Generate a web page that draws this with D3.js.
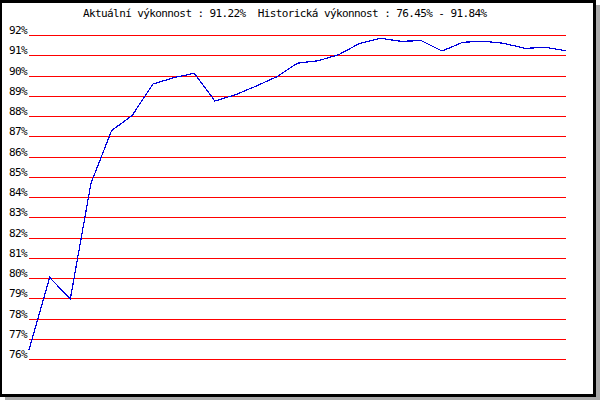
<!DOCTYPE html>
<html>
<head>
<meta charset="utf-8">
<script src="https://cdn.jsdelivr.net/npm/d3@7"></script>
<style>
  body { margin: 0; background: #fff; }
  text { font-family: "DejaVu Sans Mono", monospace; font-size: 11px; letter-spacing: -0.6px; fill: #000; white-space: pre; }
</style>
</head>
<body>
<div id="chart"></div>
<script>
// performance history (%)
var values = [76.45, 80.03, 78.96, 84.68, 87.28, 88.03, 89.58, 89.89, 90.11, 88.74,
  89.05, 89.48, 89.94, 90.61, 90.73, 91.03, 91.58, 91.84, 91.69, 91.72,
  91.21, 91.64, 91.69, 91.59, 91.34, 91.39, 91.22];
var yTicks = [76, 77, 78, 79, 80, 81, 82, 83, 84, 85, 86, 87, 88, 89, 90, 91, 92];
var title = "Aktuální výkonnost : 91.22%  Historická výkonnost : 76.45% - 91.84%";

var width = 600, height = 400;
var margin = { top: 35, right: 34, bottom: 41, left: 29 };

var svg = d3.select("#chart").append("svg")
  .attr("width", width)
  .attr("height", height);

// frame with shadow
svg.append("rect").attr("x", 5).attr("y", 5).attr("width", width - 5).attr("height", height - 5).attr("fill", "#aaa");
svg.append("rect").attr("x", 0).attr("y", 0).attr("width", 596).attr("height", 397).attr("fill", "#000");
svg.append("rect").attr("x", 2).attr("y", 3).attr("width", 591).attr("height", 391).attr("fill", "#fff");

var x = d3.scaleLinear()
  .domain([0, values.length - 1])
  .range([margin.left, width - margin.right]);
var y = d3.scaleLinear()
  .domain([d3.min(yTicks), d3.max(yTicks)])
  .range([height - margin.bottom, margin.top]);

// grid lines
svg.append("g").selectAll("line")
  .data(yTicks)
  .enter().append("line")
  .attr("x1", margin.left)
  .attr("x2", width - margin.right)
  .attr("y1", function (d) { return Math.round(y(d)) + 0.5; })
  .attr("y2", function (d) { return Math.round(y(d)) + 0.5; })
  .attr("stroke", "#ff0000")
  .attr("stroke-width", 1)
  .attr("shape-rendering", "crispEdges");

// y labels
svg.append("g").selectAll("text")
  .data(yTicks)
  .enter().append("text")
  .attr("x", 9)
  .attr("y", function (d) { return Math.round(y(d)) - 1; })
  .text(function (d) { return d + "%"; });

// line
var line = d3.line()
  .x(function (d, i) { return x(i); })
  .y(function (d) { return y(d); });

svg.append("path")
  .datum(values)
  .attr("d", line)
  .attr("fill", "none")
  .attr("stroke", "#0000dd")
  .attr("stroke-width", 1.2)
  .attr("shape-rendering", "crispEdges");

// title
svg.append("text")
  .attr("x", 83)
  .attr("y", 17)
  .attr("xml:space", "preserve")
  .text(title);
</script>
</body>
</html>
